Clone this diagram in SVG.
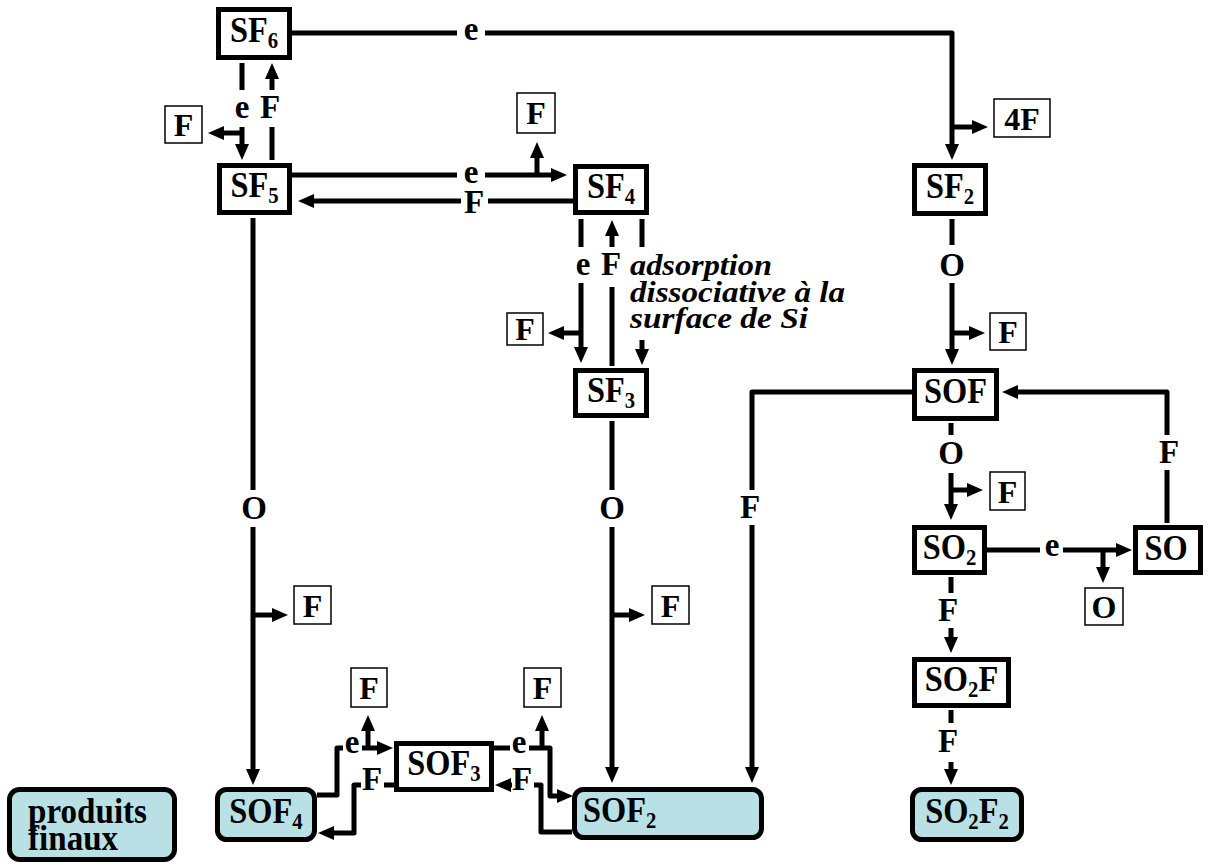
<svg xmlns="http://www.w3.org/2000/svg" width="1209" height="867" viewBox="0 0 1209 867">
<style>
text{font-family:"Liberation Serif","Times New Roman",serif;font-weight:bold;fill:#000}
.n{font-size:36px;text-anchor:middle;transform-box:fill-box;transform-origin:center;transform:scaleX(0.9)}
.ns{font-size:36px;transform-box:fill-box;transform-origin:left center;transform:scaleX(0.9)}
.l{font-size:33px;text-anchor:middle}
.t{font-size:32px;text-anchor:middle}
.s{font-size:23px}
.box{fill:#fff;stroke:#000;stroke-width:5}
.fin{fill:#b9e0e4;stroke:#000;stroke-width:5}
.sm{fill:#fff;stroke:#000;stroke-width:1.5}
.c{fill:none;stroke:#000;stroke-width:5;stroke-linejoin:round}
.a{marker-end:url(#ah)}
.it{font-size:29px;font-style:italic}
</style>
<defs>
<marker id="ah" viewBox="0 0 16 16" refX="8" refY="8" markerWidth="16" markerHeight="16" markerUnits="userSpaceOnUse" orient="auto"><path d="M0,1 L16,8 L0,15 z" fill="#000"/></marker>
</defs>

<g id="connectors">
<path class="c a" d="M292,33 H457 M485,33 H952 V152"/>
<path class="c a" d="M952,127 H980"/>
<path class="c a" d="M242,63 V90 M242,127 V152"/>
<path class="c a" d="M242,133 H216"/>
<path class="c a" d="M272,160 V127 M272,90 V71"/>
<path class="c a" d="M292,175 H457 M485,175 H559"/>
<path class="c a" d="M537,175 V150"/>
<path class="c a" d="M573,201 H488 M461,201 H306"/>
<path class="c a" d="M581,219 V247 M581,283 V355"/>
<path class="c a" d="M581,333 H556"/>
<path class="c a" d="M612,366 V287 M612,247 V228"/>
<path class="c a" d="M642,219 V247 M642,340 V357"/>
<path class="c a" d="M253,218 V490 M253,527 V777"/>
<path class="c a" d="M253,615 H280"/>
<path class="c a" d="M612,421 V490 M612,527 V775"/>
<path class="c a" d="M612,615 H637"/>
<path class="c a" d="M952,219 V245 M952,283 V357"/>
<path class="c a" d="M952,333 H977"/>
<path class="c a" d="M912,392 H752 V490 M752,525 V775"/>
<path class="c a" d="M1167,523 V470 M1167,435 V392 H1010"/>
<path class="c a" d="M951,423 V435 M951,473 V512"/>
<path class="c a" d="M951,490 H975"/>
<path class="c a" d="M987,550 H1040 M1063,550 H1124"/>
<path class="c a" d="M1103,550 V575"/>
<path class="c a" d="M951,577 V593 M951,628 V645"/>
<path class="c a" d="M951,710 V723 M951,762 V777"/>
<path class="c a" d="M317,795 H337 V748 H343 M362,748 H385"/>
<path class="c a" d="M368,748 V723"/>
<path class="c a" d="M394,785 H384 M361,785 H354 V833 H326"/>
<path class="c a" d="M494,748 H510 M529,748 H550 V796 H565"/>
<path class="c a" d="M542,748 V723"/>
<path class="c a" d="M572,832 H541 V785 H534 M512,785 H503"/>
</g>

<g id="edge-labels">
<text class="l" x="471" y="40">e</text>
<text class="l" x="242" y="118">e</text>
<text class="l" x="270" y="118">F</text>
<text class="l" x="471" y="183">e</text>
<text class="l" x="474" y="213">F</text>
<text class="l" x="583" y="275">e</text>
<text class="l" x="611" y="275">F</text>
<text class="l" x="254" y="519">O</text>
<text class="l" x="612" y="519">O</text>
<text class="l" x="952" y="276">O</text>
<text class="l" x="750" y="518">F</text>
<text class="l" x="1169" y="463">F</text>
<text class="l" x="951" y="464">O</text>
<text class="l" x="1052" y="556">e</text>
<text class="l" x="948" y="621">F</text>
<text class="l" x="948" y="752">F</text>
<text class="l" x="352" y="753">e</text>
<text class="l" x="372" y="790">F</text>
<text class="l" x="519" y="753">e</text>
<text class="l" x="522" y="790">F</text>
<g id="note">
<text class="it" x="630" y="275" textLength="142" lengthAdjust="spacingAndGlyphs">adsorption</text>
<text class="it" x="630" y="302" textLength="215" lengthAdjust="spacingAndGlyphs">dissociative à la</text>
<text class="it" x="630" y="328" textLength="178" lengthAdjust="spacingAndGlyphs">surface de Si</text>
</g>
</g>

<g id="released">
<g><rect class="sm" x="165" y="106" width="37" height="37"/><text class="t" x="183.5" y="136">F</text></g>
<g><rect class="sm" x="517" y="93" width="38" height="40"/><text class="t" x="536" y="124">F</text></g>
<g><rect class="sm" x="994" y="99" width="56" height="38"/><text class="t" x="1022" y="130">4F</text></g>
<g><rect class="sm" x="507" y="313" width="36" height="32"/><text class="t" x="525" y="340">F</text></g>
<g><rect class="sm" x="990" y="313" width="36" height="37"/><text class="t" x="1008" y="343">F</text></g>
<g><rect class="sm" x="990" y="472" width="35" height="38"/><text class="t" x="1007.5" y="503">F</text></g>
<g><rect class="sm" x="1085" y="588" width="38" height="37"/><text class="t" x="1104" y="618">O</text></g>
<g><rect class="sm" x="294" y="586" width="37" height="38"/><text class="t" x="312.5" y="617">F</text></g>
<g><rect class="sm" x="652" y="586" width="37" height="38"/><text class="t" x="670.5" y="617">F</text></g>
<g><rect class="sm" x="351" y="668" width="36" height="39"/><text class="t" x="369" y="699">F</text></g>
<g><rect class="sm" x="524" y="668" width="37" height="39"/><text class="t" x="542.5" y="699">F</text></g>
</g>

<g id="SF6"><rect class="box" x="218.5" y="9.5" width="71" height="48"/><text class="n" x="254" y="42">SF<tspan class="s" dy="6">6</tspan></text></g>
<g id="SF5"><rect class="box" x="219.5" y="165.5" width="70" height="47"/><text class="n" x="254.5" y="197">SF<tspan class="s" dy="6">5</tspan></text></g>
<g id="SF4"><rect class="box" x="575.5" y="166.5" width="71" height="46"/><text class="n" x="611" y="198">SF<tspan class="s" dy="6">4</tspan></text></g>
<g id="SF3"><rect class="box" x="575.5" y="370.5" width="71" height="45"/><text class="n" x="611" y="402">SF<tspan class="s" dy="6">3</tspan></text></g>
<g id="SF2"><rect class="box" x="914.5" y="165.5" width="71" height="48"/><text class="n" x="950" y="198">SF<tspan class="s" dy="6">2</tspan></text></g>
<g id="SOF"><rect class="box" x="914.5" y="370.5" width="82" height="48"/><text class="n" x="955.5" y="403">SOF</text></g>
<g id="SO2"><rect class="box" x="914.5" y="527.5" width="70" height="45"/><text class="n" x="949.5" y="559">SO<tspan class="s" dy="6">2</tspan></text></g>
<g id="SO"><rect class="box" x="1135.5" y="527.5" width="65" height="45"/><text class="n" x="1166" y="560">SO</text></g>
<g id="SO2F"><rect class="box" x="914.5" y="659.5" width="94" height="46"/><text class="n" x="961.5" y="691">SO<tspan class="s" dy="6">2</tspan><tspan dy="-6">F</tspan></text></g>
<g id="SOF3"><rect class="box" x="396.5" y="743.5" width="95" height="46"/><text class="n" x="444" y="775">SOF<tspan class="s" dy="6">3</tspan></text></g>
<g id="SOF4"><rect class="fin" x="217.5" y="789.5" width="97" height="50" rx="9"/><text class="n" x="266" y="823">SOF<tspan class="s" dy="6">4</tspan></text></g>
<g id="SOF2"><rect class="fin" x="574.5" y="789.5" width="187" height="48" rx="9"/><text class="ns" x="583" y="822">SOF<tspan class="s" dy="6">2</tspan></text></g>
<g id="SO2F2"><rect class="fin" x="912.5" y="789.5" width="109" height="50" rx="9"/><text class="n" x="967" y="823">SO<tspan class="s" dy="6">2</tspan><tspan dy="-6">F</tspan><tspan class="s" dy="6">2</tspan></text></g>
<g id="legend"><rect class="fin" x="9.5" y="789.5" width="165" height="70" rx="10"/><text class="ns" x="28" y="823" style="transform:scaleX(0.92)">produits</text><text class="ns" x="28" y="850" style="transform:scaleX(0.92)">finaux</text></g>
</svg>
